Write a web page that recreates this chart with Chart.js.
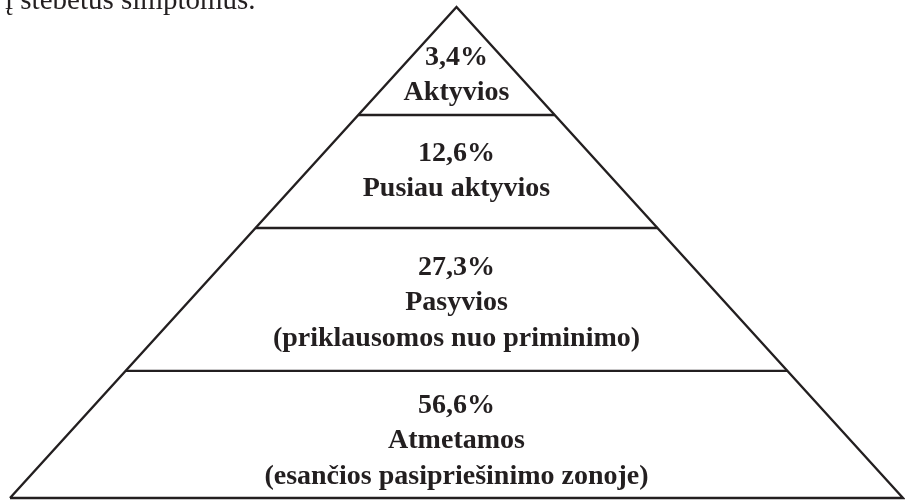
<!DOCTYPE html>
<html>
<head>
<meta charset="utf-8">
<script src="https://cdn.jsdelivr.net/npm/chart.js@4/dist/chart.umd.min.js"></script>
<style>
  html, body { margin: 0; padding: 0; background: #fff; }
  #wrap { width: 905px; height: 500px; }
</style>
</head>
<body>
<div id="wrap"><canvas id="pyramid" width="905" height="500"></canvas></div>
<script>
// tiers, top to bottom
var percents = ['3,4%', '12,6%', '27,3%', '56,6%'];
var names = ['Aktyvios', 'Pusiau aktyvios', 'Pasyvios', 'Atmetamos'];
var notes = ['', '', '(priklausomos nuo priminimo)', '(esančios pasipriešinimo zonoje)'];
// top edge of each tier, as share of the pyramid height measured from the base
var tierTops = [1, 0.78, 0.55, 0.259];
var caption = 'į stebėtus simptomus.';

var ink = '#231f20';

(function () {
    // outline of the pyramid: base half-width 1, apex at height 1
    var outline = [{ x: -1, y: 0 }, { x: 0, y: 1 }, { x: 1, y: 0 }, { x: -1, y: 0 }];
    var datasets = [{
        data: outline,
        showLine: true,
        borderColor: ink,
        borderWidth: 2.4,
        pointRadius: 0,
        clip: false
    }];
    // a divider at the bottom of every tier but the last
    tierTops.slice(1).forEach(function (h) {
        var half = 1 - h;
        datasets.push({
            data: [{ x: -half, y: h }, { x: half, y: h }],
            showLine: true,
            borderColor: ink,
            borderWidth: 2.4,
            pointRadius: 0,
            clip: false
        });
    });

    // where the text block sits inside each tier (0 = top edge, 1 = bottom edge)
    var anchor = [0.63, 0.5, 0.525, 0.55];

    var tierLabels = {
        id: 'tierLabels',
        afterDatasetsDraw: function (chart) {
            var ctx = chart.ctx, ys = chart.scales.y, xs = chart.scales.x;
            var cx = xs.getPixelForValue(0);
            var pitch = 35.5;
            ctx.save();
            ctx.fillStyle = ink;
            ctx.textAlign = 'center';
            ctx.textBaseline = 'middle';
            ctx.font = 'bold 28px "Liberation Serif", "DejaVu Serif", serif';
            percents.forEach(function (p, i) {
                var top = ys.getPixelForValue(tierTops[i]);
                var bottom = ys.getPixelForValue(i + 1 < tierTops.length ? tierTops[i + 1] : 0);
                var lines = [p, names[i]];
                if (notes[i]) lines.push(notes[i]);
                var mid = top + (bottom - top) * anchor[i];
                var first = mid - (lines.length - 1) * pitch / 2;
                lines.forEach(function (t, k) {
                    ctx.fillText(t, cx, first + k * pitch);
                });
            });
            // tail of the preceding paragraph, cut by the page edge
            ctx.textAlign = 'left';
            ctx.textBaseline = 'alphabetic';
            ctx.font = '29px "Liberation Serif", "DejaVu Serif", serif';
            ctx.fillText(caption, 5, 9);
            ctx.restore();
        }
    };

    new Chart(document.getElementById('pyramid'), {
        type: 'scatter',
        data: { datasets: datasets },
        options: {
            responsive: false,
            devicePixelRatio: 1,
            animation: false,
            layout: { padding: { left: 10, right: 2, top: 7, bottom: 2 } },
            scales: {
                x: { min: -1, max: 1, display: false },
                y: { min: 0, max: 1, display: false }
            },
            plugins: {
                legend: { display: false },
                tooltip: { enabled: false }
            }
        },
        plugins: [tierLabels]
    });
})();
</script>
</body>
</html>
